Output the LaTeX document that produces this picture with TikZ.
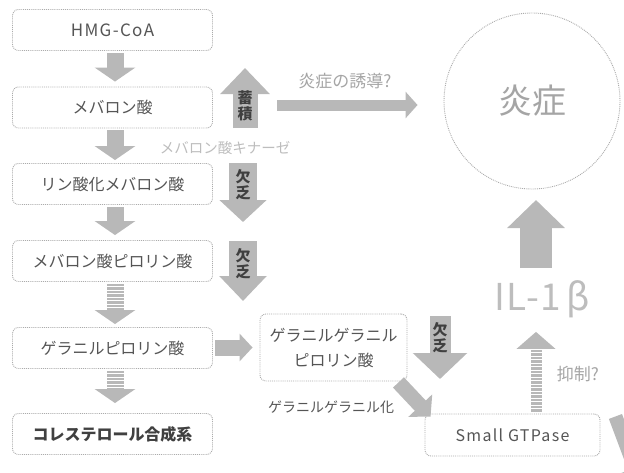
\documentclass[tikz,border=0pt]{standalone}
\usepackage{fontspec}
\setmainfont{Noto Sans CJK JP}
\usetikzlibrary{arrows.meta}
\definecolor{arrowgray}{HTML}{B8B8B8}
\definecolor{boxline}{HTML}{ABABAB}
\definecolor{boxtext}{HTML}{555555}
\definecolor{lighttext}{HTML}{A5A5A5}
\definecolor{paletext}{HTML}{BDBDBD}
\definecolor{darktext}{HTML}{404040}
\begin{document}
\begin{tikzpicture}[x=1pt,y=-1pt,
  box/.style={draw=boxline, densely dotted, line width=0.9pt, rounded corners=6pt, fill=white,
    minimum width=200pt, minimum height=41pt, inner sep=0pt, text=boxtext,
    font=\fontsize{16}{18}\selectfont},
  latin/.style={font=\fontsize{17}{19}\selectfont\addfontfeature{LetterSpace=8}},
  flow/.style={line width=17pt, draw=arrowgray, -{Triangle[width=40pt,length=14pt]},
    shorten <=2pt, shorten >=5pt},
  striped/.style={flow, dash pattern=on 2.2pt off 1.3pt},
  tagarrow/.style={line width=28pt, draw=arrowgray},
  tagtext/.style={text=darktext, align=center, inner sep=0pt,
    font=\fontsize{15}{16}\selectfont\bfseries},
  note/.style={text=lighttext, inner sep=0pt}
]
\useasboundingbox (0,0) rectangle (624,472);
\clip (0,0) rectangle (624,472);

% left column boxes
\node[box, latin] (hmg)  at (112.5,30)  {HMG-CoA};
\node[box] (mev)  at (112.5,107.5) {メバロン酸};
\node[box] (pmev) at (112.5,184) {リン酸化メバロン酸};
\node[box] (mpp)  at (112.5,261) {メバロン酸ピロリン酸};
\node[box] (gpp)  at (112.5,348) {ゲラニルピロリン酸};
\node[box, text=darktext, font=\fontsize{16}{18}\selectfont\bfseries] (chol) at (112.5,434) {コレステロール合成系};

% flow arrows
\draw[flow] ([xshift=2.5pt]hmg.south)  -- ([xshift=2.5pt]mev.north);
\draw[flow, shorten >=3pt] ([xshift=2.5pt]mev.south)  -- ([xshift=2.5pt]pmev.north);
\draw[flow] ([xshift=2.5pt]pmev.south) -- ([xshift=2.5pt]mpp.north);
\draw[striped, shorten >=3pt] ([xshift=2.5pt]mpp.south)  -- ([xshift=2.5pt]gpp.north);
\draw[striped, shorten >=10pt] ([xshift=2.5pt]gpp.south)  -- ([xshift=2.5pt]chol.north);

% accumulation arrow
\coordinate (accB) at (245,128);
\coordinate (accT) at (245,68);
\draw[tagarrow, line width=25pt, -{Triangle[width=48pt,length=26pt]}] (accB) -- (accT);
\node[tagtext] (acc) at (245,106) {蓄\\積};

% deficiency arrows
\coordinate (d1T) at (243,163);
\coordinate (d1B) at (243,222);
\draw[tagarrow, -{Triangle[width=46pt,length=22pt]}] (d1T) -- (d1B);
\node[tagtext] (def1) at (243,185) {欠\\乏};
\coordinate (d2T) at (243,241);
\coordinate (d2B) at (243,301);
\draw[tagarrow, -{Triangle[width=46pt,length=25pt]}] (d2T) -- (d2B);
\node[tagtext] (def2) at (243,264) {欠\\乏};

% inflammation circle
\node[circle, draw=boxline, densely dotted, line width=0.9pt, minimum size=176pt, inner sep=0pt,
  text=lighttext, font=\fontsize{34}{36}\selectfont] (infl) at (532,101) {炎症};

% induction arrow
\coordinate (indS) at (277,105);
\draw[line width=11pt, draw=arrowgray, -{Triangle[width=26pt,length=12pt]}, shorten >=26pt]
  (indS) -- (infl.west |- indS);
\node[note, text=lighttext, font=\fontsize{17}{19}\selectfont] (indT) at (345,81) {炎症の誘導?};

% kinase label
\node[note, text=paletext, font=\fontsize{14.5}{16}\selectfont] (kin) at (225,148) {メバロン酸キナーゼ};

% GGPP
\node[box, minimum width=147pt, minimum height=67pt, align=center,
  font=\fontsize{16}{25}\selectfont] (ggpp) at (333.5,347.5) {ゲラニルゲラニル\\ピロリン酸};
\draw[line width=16pt, draw=arrowgray, -{Triangle[width=27pt,length=13pt]}, shorten <=2pt, shorten >=7pt]
  (gpp.east |- ggpp.west) -- (ggpp.west);

% third deficiency arrow
\coordinate (d3T) at (440,316);
\coordinate (d3B) at (440,379);
\draw[tagarrow, line width=21pt, -{Triangle[width=53pt,length=26pt]}] (d3T) -- (d3B);
\node[tagtext] (def3) at (440,338) {欠\\乏};

% Small GTPase
\node[box, latin, minimum width=175pt, minimum height=42pt, font=\fontsize{16}{18}\selectfont\addfontfeature{LetterSpace=8}] (gtp) at (512.5,435) {Small GTPase};
\draw[line width=15pt, draw=arrowgray, -{Triangle[width=32pt,length=15pt]}]
  ([xshift=-9pt,yshift=-1pt]ggpp.south east) -- ([xshift=6pt,yshift=-3pt]gtp.north west);
\node[note, text=boxtext, font=\fontsize{14}{16}\selectfont] (ggl) at (331,407) {ゲラニルゲラニル化};

% IL-1beta
\node[note, text=paletext, font=\fontsize{37}{39}\selectfont\addfontfeature{LetterSpace=4}] (il) at (542,299) {IL-1\hspace{5pt}β};
\draw[line width=11pt, draw=arrowgray, dash pattern=on 2.2pt off 1.3pt,
  -{Triangle[width=38pt,length=17pt]}, shorten <=2pt, shorten >=14pt]
  ([xshift=23.5pt]gtp.north) -- ([xshift=23.5pt]gtp.north |- il.south);
\node[note, font=\fontsize{17}{19}\selectfont] (sup) at (578,374) {抑制?};
\coordinate (ilTop) at (536,268);
\coordinate (inflBot) at (536,200);
\draw[line width=32pt, draw=arrowgray, -{Triangle[width=56pt,length=28pt]}] (ilTop) -- (inflBot);

% partial arrow at bottom right
\coordinate (brEnd) at (640,482);
\draw[line width=14pt, draw=arrowgray, -{Triangle[width=32pt,length=15pt]}]
  ([xshift=15pt,yshift=40pt]gtp.south east) -- (brEnd);
\end{tikzpicture}
\end{document}
